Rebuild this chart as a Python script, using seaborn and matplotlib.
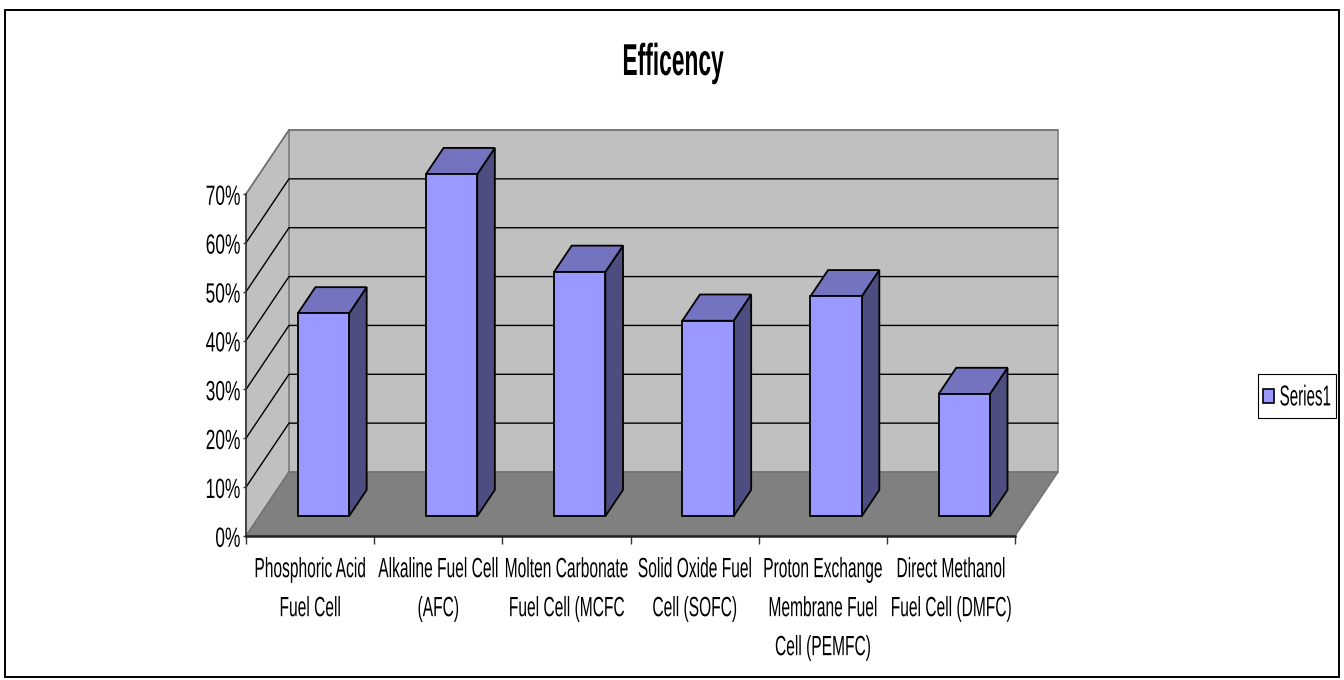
import matplotlib
matplotlib.use("Agg")
import matplotlib.pyplot as plt
import matplotlib.patheffects as pe
from matplotlib.patches import Polygon, Patch, Rectangle
from matplotlib.legend_handler import HandlerPatch
from matplotlib.transforms import Affine2D
import numpy as np
import pandas as pd
import seaborn as sns

categories = ["Phosphoric Acid\nFuel Cell", "Alkaline Fuel Cell\n(AFC)", "Molten Carbonate\nFuel Cell (MCFC",
              "Solid Oxide Fuel\nCell (SOFC)", "Proton Exchange\nMembrane Fuel\nCell (PEMFC)",
              "Direct Methanol\nFuel Cell (DMFC)"]
efficiency = [41.5, 70, 50, 40, 45, 25]
y_ticks = [0, 10, 20, 30, 40, 50, 60, 70]
series_name = "Series1"
title_text = "Efficency"

W, H = 1344, 680
sns.set_theme(style="white")
plt.rcParams["font.family"] = ["Liberation Sans", "DejaVu Sans"]


class Stretch(pe.AbstractPathEffect):
    """Tall, condensed look of the original text: scale glyphs upward from the baseline."""

    def __init__(self, sy, dy=0.0):
        super().__init__()
        self.sy = sy
        self.dy = dy

    def draw_path(self, renderer, gc, tpath, affine, rgbFace=None):
        t = Affine2D().scale(1, self.sy)
        renderer.draw_path(gc, tpath, t + affine + Affine2D().translate(0, self.dy), rgbFace)


fig = plt.figure(figsize=(W / 100, H / 100), dpi=100, facecolor="white")
ax = fig.add_axes([246 / W, 1 - 536 / H, (1015 - 246) / W, (536 - 194) / H])
ax.patch.set_alpha(0)

df = pd.DataFrame({"cell": categories, "value": efficiency})
sns.barplot(data=df, x="cell", y="value", ax=ax, width=0.4, color="#9999FF",
            saturation=1, edgecolor="black", linewidth=1.3, zorder=5)
ax.set_xlim(-0.5, 5.5)
ax.set_ylim(0, 70)
fig.canvas.draw()

DX, DY = 43, 64
D0, D1 = 0.31, 0.72


def pt(x, v, d=0.0):
    p = ax.transData.transform((x, v))
    return (p[0] + d * DX, p[1] + d * DY)


def poly(points, fc, ec, lw=1.0, z=1):
    fig.add_artist(Polygon(points, closed=True, facecolor=fc, edgecolor=ec, linewidth=lw,
                           transform=None, zorder=z, joinstyle="miter"))


# frame
fig.add_artist(Rectangle((5 / W, 1 - 677 / H), (1338.5 - 5) / W, (677 - 10) / H, transform=fig.transFigure,
                         fill=False, edgecolor="black", linewidth=1.4, zorder=0))

# walls and floor
xa, xb = -0.5, 5.5
poly([pt(xa, 0, 1), pt(xb, 0, 1), pt(xb, 70, 1), pt(xa, 70, 1)], "#C0C0C0", "#808080", 1.2, 0.2)
poly([pt(xa, 0), pt(xa, 0, 1), pt(xa, 70, 1), pt(xa, 70)], "#C0C0C0", "#808080", 1.2, 0.2)
poly([pt(xa, 0), pt(xb, 0), pt(xb, 0, 1), pt(xa, 0, 1)], "#808080", "#707070", 1.0, 0.3)
for v in y_ticks[1:]:
    xs, ys = zip(pt(xa, v), pt(xa, v, 1), pt(xb, v, 1))
    col = "#707070" if v == 70 else "black"
    fig.add_artist(plt.Line2D(xs, ys, transform=None, color=col, linewidth=1.0, zorder=0.5))

# bars: front faces from seaborn, shifted into the depth of the floor; top and side from the same values
shift = Affine2D().translate(D0 * DX, D0 * DY)
for patch, val, i in zip(ax.patches, efficiency, range(len(efficiency))):
    patch.set_transform(ax.transData + shift)
    patch.set_clip_on(False)
    x0, x1 = i - 0.2, i + 0.2
    poly([pt(x1, 0, D0), pt(x1, 0, D1), pt(x1, val, D1), pt(x1, val, D0)], "#4D4D80", "black", 1.3, 0.7)
    poly([pt(x0, val, D0), pt(x1, val, D0), pt(x1, val, D1), pt(x0, val, D1)], "#7373BF", "black", 1.3, 0.7)

ax.set_zorder(1)
ax.set_xlabel("")
ax.set_ylabel("")
sns.despine(ax=ax, top=True, right=True)
ax.spines["left"].set_color("#333333")
ax.spines["left"].set_linewidth(1.1)
ax.spines["bottom"].set_color("#222222")
ax.spines["bottom"].set_linewidth(1.8)
ax.set_yticks(y_ticks)
ax.set_yticklabels([f"{v}%" for v in y_ticks])
ax.set_xticks(range(6))
ax.set_xticklabels(categories, linespacing=3.0)
ax.set_xticks(np.arange(-0.5, 6), minor=True)
ax.tick_params(axis="x", which="major", length=0, pad=21, labelsize=11.2, colors="black")
ax.tick_params(axis="x", which="minor", length=5.5, width=1, color="#333333", bottom=True)
ax.tick_params(axis="y", which="major", length=2.5, width=1, color="#333333", labelsize=12.5, pad=1.5, left=True)
for t in ax.get_xticklabels():
    t.set_path_effects([Stretch(1.79)])
    t.set_color("black")
for t in ax.get_yticklabels():
    t.set_path_effects([Stretch(1.6, -4.8)])
    t.set_color("black")

fig.text(673 / W, 1 - 75 / H, title_text, ha="center", va="baseline", fontsize=16.4, fontweight="bold",
         color="black", path_effects=[Stretch(1.96)])


def swatch(legend, orig_handle, xdescent, ydescent, width, height, fontsize):
    return Rectangle((-xdescent, -ydescent + height * 0.3), width, height * 0.4)


leg = fig.legend(handles=[Patch(facecolor="#9999FF", edgecolor="black", linewidth=1.2, label=series_name)],
                 handler_map={Patch: HandlerPatch(patch_func=swatch)},
                 loc="center", bbox_to_anchor=(1297 / W, 1 - 396 / H), fontsize=10.9, frameon=True, fancybox=False,
                 edgecolor="black", framealpha=1, handlelength=0.7, handleheight=3.0, handletextpad=0.38,
                 borderpad=0.33, borderaxespad=0)
leg.get_frame().set_linewidth(0.8)
for t in leg.get_texts():
    t.set_path_effects([Stretch(1.9, -5)])
    t.set_color("black")

fig.savefig("out.png", dpi=100, facecolor="white")
